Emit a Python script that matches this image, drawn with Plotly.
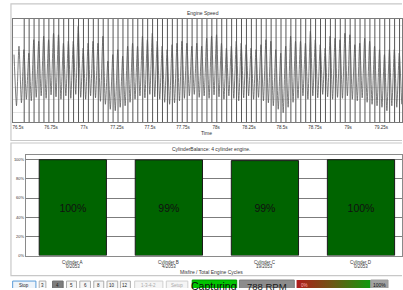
import plotly.graph_objects as go

# ---------------- data ----------------
# Engine speed: peak and trough of each firing cycle (RPM, estimated)
PEAK_RPM = [816, 833, 826, 819, 846, 843, 853, 846, 859, 856,
            839, 843, 843, 873, 829, 839, 843, 839, 853, 803,
            816, 826, 813, 833, 839, 833, 853, 846, 859, 843,
            833, 826, 836, 839, 843, 839, 833, 839, 833, 849,
            853, 856, 839, 829, 833, 843, 839, 836, 829, 826,
            836, 846, 843, 826, 819, 833, 853, 843, 843, 839,
            863, 846, 836, 829, 853, 849, 846, 859, 856, 836,
            839, 849, 843, 833, 826, 816, 826, 826, 819]
TROUGH_RPM = [713, 719, 726, 723, 730, 733, 728, 735, 731, 726,
              733, 728, 736, 730, 726, 733, 729, 722, 716, 706,
              703, 710, 713, 720, 726, 733, 729, 736, 731, 726,
              720, 716, 719, 723, 728, 733, 736, 730, 733, 728,
              735, 731, 726, 733, 728, 723, 729, 733, 726, 730,
              723, 719, 713, 706, 699, 710, 720, 728, 733, 726,
              733, 729, 736, 731, 726, 730, 728, 733, 726, 723,
              729, 720, 716, 713, 710, 703, 713, 710, 716]
FIRST_PEAK_S = 76.47      # time of first peak
CYCLE_S = 0.0374          # firing interval
FIRST_MARK_S = 76.547     # first firing marker
MARK_COUNT = 77
TIME_RANGE = [76.462, 79.408]
RPM_RANGE = [680, 888]
TIME_TICKS = [76.5, 76.75, 77.0, 77.25, 77.5, 77.75, 78.0, 78.25, 78.5, 78.75, 79.0, 79.25]
TIME_TICK_TEXT = ["76.5s", "76.75s", "77s", "77.25s", "77.5s", "77.75s", "78s",
                  "78.25s", "78.5s", "78.75s", "79s", "79.25s"]

# Cylinder balance
CYLINDERS = ["Cylinder A", "Cylinder B", "Cylinder C", "Cylinder D"]
MISFIRES = [0, 4, 19, 0]
TOTAL_CYCLES = 2053
BALANCE_TICKS = [0, 20, 40, 60, 80, 100]
BALANCE_TICK_TEXT = ["0%", "20%", "40%", "60%", "80%", "100%"]

# Toolbar
BUTTONS = ["Stop", "3", "4", "5", "6", "8", "10", "12", "1-3-4-2", "Setup"]
STATUS_TEXT = "Capturing"
RPM_TEXT = "788 RPM"

# ---------------- figure ----------------
W, H = 403, 290
FONT = "Liberation Sans"
fig = go.Figure()

# engine speed waveform
wt, wy = [], []
for i, (p, tr) in enumerate(zip(PEAK_RPM, TROUGH_RPM)):
    wt += [FIRST_PEAK_S + i * CYCLE_S, FIRST_PEAK_S + (i + 0.5) * CYCLE_S]
    wy += [p, tr]
fig.add_trace(go.Scatter(x=wt, y=wy, mode="lines",
                         line=dict(color="#5c5c5c", width=0.8, shape="spline", smoothing=0.6),
                         xaxis="x", yaxis="y", hoverinfo="skip"))

# firing markers
mx, my = [], []
for k in range(MARK_COUNT):
    t = FIRST_MARK_S + k * CYCLE_S
    mx += [t, t, None]
    my += [RPM_RANGE[0], RPM_RANGE[1], None]
fig.add_trace(go.Scatter(x=mx, y=my, mode="lines", line=dict(color="#555555", width=1),
                         xaxis="x", yaxis="y", hoverinfo="skip"))

# cylinder balance bars
balance = [100.0 * (1 - m / TOTAL_CYCLES) for m in MISFIRES]
bar_text = [f"{int(b)}%" for b in balance]
fig.add_trace(go.Bar(x=list(range(len(CYLINDERS))), y=balance, width=0.70,
                     marker=dict(color="#006400", line=dict(color="#1a1a1a", width=1)),
                     text=bar_text, textposition="inside", insidetextanchor="middle", textangle=0,
                     textfont=dict(family=FONT, size=10.5, color="#111111"),
                     xaxis="x2", yaxis="y2", hoverinfo="skip"))

# gradient progress bar (pixel axes)
fig.add_trace(go.Scatter(x=[297.3, 371.7, 371.7, 297.3, 297.3], y=[282, 282, 293, 293, 282],
                         mode="lines", fill="toself", line=dict(width=0),
                         fillgradient=dict(type="horizontal",
                                           colorscale=[[0, "#b01c1c"], [0.5, "#6a5a14"], [1, "#0e9a0e"]]),
                         xaxis="x3", yaxis="y3", hoverinfo="skip"))

shapes = []
annotations = []


def rect(x0, y0, x1, y1, line="#c8c8c8", fill=None, lw=1):
    shapes.append(dict(type="rect", xref="x3", yref="y3", x0=x0, y0=y0, x1=x1, y1=y1,
                       line=dict(color=line, width=lw), fillcolor=fill if fill else "rgba(0,0,0,0)",
                       layer="above"))


def text(x, y, s, size, color="#333333", xanchor="center", yanchor="middle"):
    annotations.append(dict(xref="x3", yref="y3", x=x, y=y, text=s, showarrow=False,
                            xanchor=xanchor, yanchor=yanchor,
                            font=dict(family=FONT, size=size, color=color)))


# panel frames
rect(11, 4, 406, 141.5, line="#c8c8c8", lw=1.2)
rect(11, 144, 406, 277.5, line="#c8c8c8", lw=1.2)

# titles
text(204, 13, "Engine Speed", 5)
text(207, 134, "Time", 5)
text(212, 150.5, "CylinderBalance: 4 cylinder engine.", 5)
text(212, 274, "Misfire / Total Engine Cycles", 5)

# cylinder category labels
for i, (c, m) in enumerate(zip(CYLINDERS, MISFIRES)):
    cx = 73 + 96.3 * i
    text(cx, 264, c, 4.5)
    text(cx, 268.6, f"{m}/{TOTAL_CYCLES}", 4.5)

# toolbar buttons
btn_pos = [(12.7, 36), (39.3, 46), (52.7, 63.3), (66.7, 76.7), (80, 90.7), (94, 104),
           (107.3, 118), (120.7, 130.7), (135, 163.3), (166.7, 188.3)]
for name, (x0, x1) in zip(BUTTONS, btn_pos):
    if name == "Stop":
        rect(x0, 283, x1, 293, line="#5a9bd8", fill="#eef4fa")
        col = "#222222"
    elif name == "4":
        rect(x0, 283, x1, 293, line="#6c6c6c", fill="#7d7d7d")
        col = "#222222"
    elif name in ("1-3-4-2", "Setup"):
        rect(x0, 283, x1, 293, line="#cfcfcf", fill="#f5f5f5")
        col = "#a8a8a8"
    else:
        rect(x0, 283, x1, 293, line="#adadad", fill="#f5f5f5")
        col = "#222222"
    text((x0 + x1) / 2, 287.2, name, 4.5, color=col)

rect(192.7, 282, 237.3, 294, line="#009a00", fill="#00c400")
text(215, 288.2, STATUS_TEXT, 10.5, color="#0a0a0a")
rect(240, 282, 295, 294, line="#7a7a7a", fill="#8c8c8c")
text(267.5, 288.2, RPM_TEXT, 9.5, color="#1a1a1a")
rect(371.7, 282, 389, 294, line="#9a9a9a", fill="#a2a2a2")
text(300, 287, "0%", 4.5, color="#ffb0b0", xanchor="left")
text(372, 287, "100%", 5, color="#111111", xanchor="left")

fig.update_layout(
    width=W, height=H, autosize=False,
    margin=dict(l=0, r=0, t=0, b=0, pad=0),
    paper_bgcolor="white", plot_bgcolor="rgba(0,0,0,0)",
    showlegend=False, shapes=shapes, annotations=annotations,
    font=dict(family=FONT, size=5, color="#333333"),
    xaxis=dict(domain=[13 / W, 1.0], range=TIME_RANGE, tickvals=TIME_TICKS, ticktext=TIME_TICK_TEXT,
               ticks="", tickfont=dict(size=4.5, color="#333333"), showgrid=False, zeroline=False,
               showline=True, mirror=True, linecolor="#7a7a7a", linewidth=1, anchor="y"),
    yaxis=dict(domain=[1 - 123 / H, 1 - 19 / H], range=RPM_RANGE, showticklabels=False, ticks="",
               showgrid=True, gridcolor="#e4e4e4", dtick=25, zeroline=False,
               showline=True, mirror=True, linecolor="#7a7a7a", linewidth=1, anchor="x"),
    xaxis2=dict(domain=[26 / W, 1.0], range=[-0.488, 3.427], showticklabels=False, ticks="",
                showgrid=False, zeroline=False, showline=True, mirror=True, linecolor="#8a8a8a",
                linewidth=1, anchor="y2"),
    yaxis2=dict(domain=[1 - 257.3 / H, 1 - 156 / H], range=[0, 105], tickvals=BALANCE_TICKS,
                ticktext=BALANCE_TICK_TEXT, ticks="", tickfont=dict(size=4, color="#333333"),
                showgrid=True, gridcolor="#7c7c7c", gridwidth=1, zeroline=False,
                showline=True, mirror=True, linecolor="#8a8a8a", linewidth=1, anchor="x2"),
    xaxis3=dict(domain=[0, 1], range=[0, W], visible=False, fixedrange=True, anchor="y3"),
    yaxis3=dict(domain=[0, 1], range=[H, 0], visible=False, fixedrange=True, anchor="x3"),
    bargap=0.3,
)

fig.write_html("out.html", config={"displayModeBar": False, "staticPlot": True},
               post_script="document.body.style.margin='0';document.body.style.overflow='hidden';")
